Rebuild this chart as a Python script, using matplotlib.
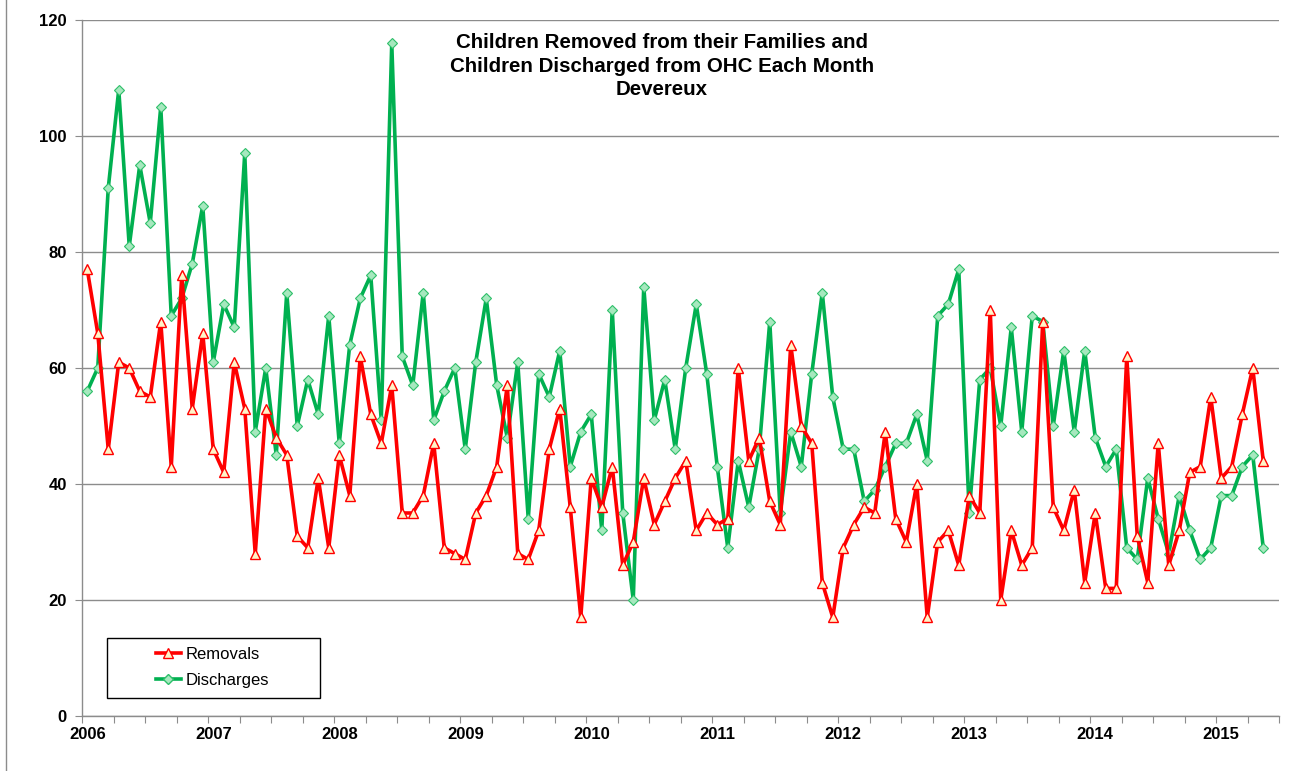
import matplotlib.pyplot as plt
import numpy as np
from matplotlib.patches import Rectangle
from matplotlib.lines import Line2D

# monthly values, Jan 2006 .. May 2015
removals = [77, 66, 46, 61, 60, 56, 55, 68, 43, 76, 53, 66, 46, 42,
            61, 53, 28, 53, 48, 45, 31, 29, 41, 29, 45, 38, 62,
            52, 47, 57, 35, 35, 38, 47, 29, 28, 27, 35, 38, 43,
            57, 28, 27, 32, 46, 53, 36, 17, 41, 36, 43, 26, 30, 41,
            33, 37, 41, 44, 32, 35, 33, 34, 60, 44, 48, 37, 33,
            64, 50, 47, 23, 17, 29, 33, 36, 35, 49, 34, 30, 40, 17,
            30, 32, 26, 38, 35, 70, 20, 32, 26, 29, 68, 36, 32,
            39, 23, 35, 22, 22, 62, 31, 23, 47, 26, 32, 42, 43,
            55, 41, 43, 52, 60, 44]
discharges = [56, 60, 91, 108, 81, 95, 85, 105, 69, 72, 78, 88, 61, 71,
              67, 97, 49, 60, 45, 73, 50, 58, 52, 69, 47, 64, 72,
              76, 51, 116, 62, 57, 73, 51, 56, 60, 46, 61, 72, 57,
              48, 61, 34, 59, 55, 63, 43, 49, 52, 32, 70, 35, 20, 74,
              51, 58, 46, 60, 71, 59, 43, 29, 44, 36, 46, 68, 35,
              49, 43, 59, 73, 55, 46, 46, 37, 39, 43, 47, 47, 52, 44,
              69, 71, 77, 35, 58, 60, 50, 67, 49, 69, 68, 50, 63,
              49, 63, 48, 43, 46, 29, 27, 41, 34, 28, 38, 32, 27,
              29, 38, 38, 43, 45, 29]
years = ['2006', '2007', '2008', '2009', '2010', '2011', '2012', '2013', '2014', '2015']
n_months = 114  # category slots on the axis (through Jun 2015)

plt.rcParams['font.family'] = ['Liberation Sans', 'DejaVu Sans']

red = '#FF0000'
green = '#00B050'

fig = plt.figure(figsize=(12.93, 7.71), dpi=100, facecolor='white')
ax = fig.add_axes([82 / 1293, 1 - 716 / 771, (1279 - 82) / 1293, (716 - 20) / 771])

x_rem = np.arange(len(removals)) + 0.5
x_dis = np.arange(len(discharges)) + 0.5

ax.plot(x_dis, discharges, color=green, linewidth=2.6, marker='D', markersize=5,
        markerfacecolor='#A6E8BE', markeredgecolor='#2EBF6A', markeredgewidth=0.8,
        label='Discharges', zorder=3)
ax.plot(x_rem, removals, color=red, linewidth=2.6, marker='^', markersize=7,
        markerfacecolor='#FFF4C8', markeredgecolor=red, markeredgewidth=1.0,
        label='Removals', zorder=4)

ax.set_xlim(0, n_months)
ax.set_ylim(0, 120)
ax.set_yticks(np.arange(0, 121, 20))
ax.yaxis.grid(True, color='#8C8C8C', linewidth=1.0)
ax.set_axisbelow(True)

# quarter tick marks, year labels centred on January
ax.set_xticks(np.arange(0, n_months + 1, 3))
ax.set_xticklabels([])
ax.set_xticks(np.arange(len(years)) * 12 + 0.5, minor=True)
ax.set_xticklabels(years, minor=True)
ax.tick_params(axis='x', which='major', length=5, color='#8C8C8C', direction='out')
ax.tick_params(axis='x', which='minor', length=0, pad=8, labelsize=12)
ax.tick_params(axis='y', length=5, color='#8C8C8C', pad=6, labelsize=12)
for lab in ax.get_xticklabels(minor=True) + ax.get_yticklabels():
    lab.set_fontweight('bold')

for side in ['top', 'right']:
    ax.spines[side].set_visible(False)
for side in ['left', 'bottom']:
    ax.spines[side].set_color('#8C8C8C')
    ax.spines[side].set_linewidth(1.0)

# legend with a plain black box
ax.add_patch(Rectangle((0.0209, 0.026), 0.178, 0.086, transform=ax.transAxes,
                       facecolor='white', edgecolor='black', linewidth=1.0, zorder=5))
handles = [Line2D([], [], color=red, linewidth=2.6, marker='^', markersize=7,
                  markerfacecolor='#FFF4C8', markeredgecolor=red),
           Line2D([], [], color=green, linewidth=2.6, marker='D', markersize=5,
                  markerfacecolor='#A6E8BE', markeredgecolor='#2EBF6A')]
leg = ax.legend(handles, ['Removals', 'Discharges'], loc='center left',
                bbox_to_anchor=(0.0545, 0.0697), frameon=False, borderpad=0,
                handlelength=1.55, handletextpad=0.25, labelspacing=0.7,
                fontsize=12, markerscale=1.0)
leg.set_zorder(6)

fig.text(662 / 1293, 1 - 33 / 771,
         'Children Removed from their Families and\n'
         'Children Discharged from OHC Each Month\nDevereux',
         ha='center', va='top', fontsize=14.8, fontweight='bold', linespacing=1.3)

# chart area edge on the left
fig.add_artist(Line2D([6 / 1293, 6 / 1293], [0, 1], transform=fig.transFigure,
                      color='#8C8C8C', linewidth=1.0))

fig.savefig('out.png', dpi=100, facecolor='white')
